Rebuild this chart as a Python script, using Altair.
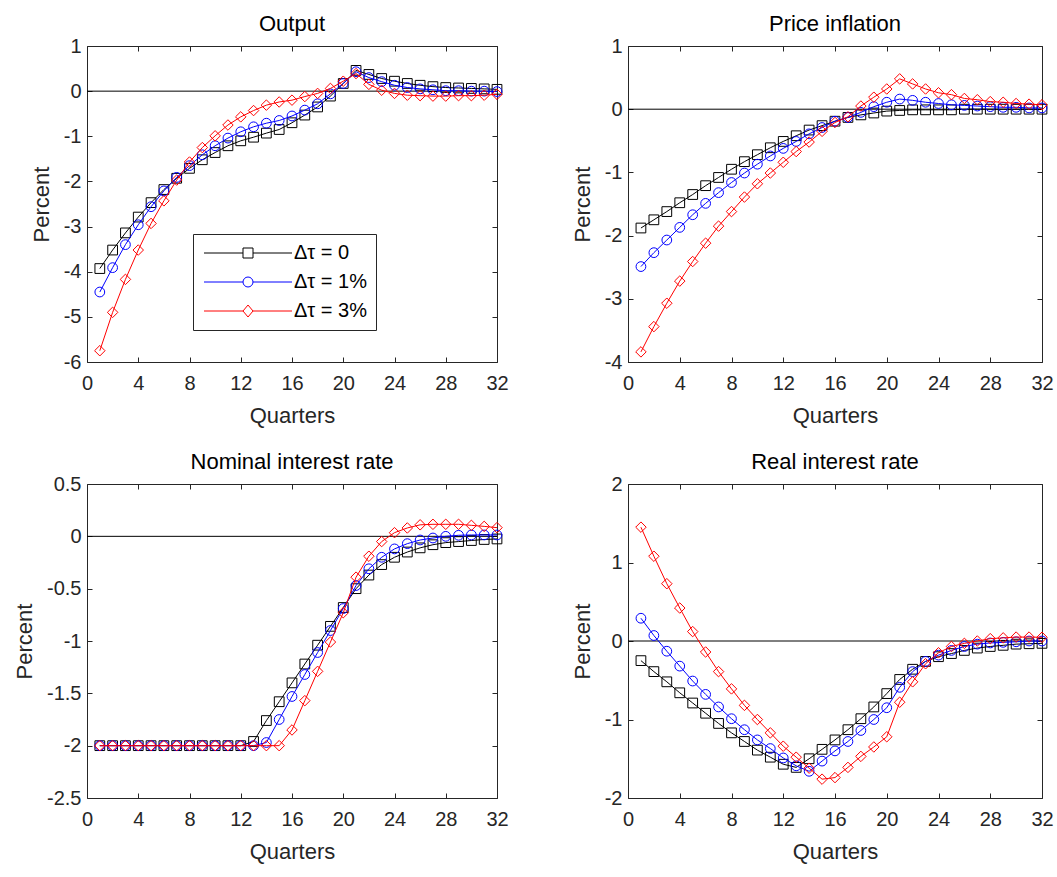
import altair as alt
import pandas as pd

# ---------------- data ----------------
quarters = list(range(1, 33))
series_labels = ["Δτ = 0", "Δτ = 1%", "Δτ = 3%"]
series_colors = ["#000000", "#0000FF", "#FF0000"]
series_shapes = ["square", "circle", "diamond"]

x_ticks = [0, 4, 8, 12, 16, 20, 24, 28, 32]

output_0 = [-3.93, -3.52, -3.14, -2.79, -2.47, -2.18, -1.93, -1.71, -1.52, -1.36, -1.21, -1.10,
            -1.02, -0.93, -0.85, -0.70, -0.53, -0.35, -0.11, 0.17, 0.46, 0.37, 0.28, 0.22,
            0.17, 0.13, 0.10, 0.08, 0.07, 0.06, 0.05, 0.04]
output_1 = [-4.45, -3.91, -3.40, -2.96, -2.56, -2.21, -1.91, -1.65, -1.41, -1.21, -1.04, -0.90,
            -0.79, -0.71, -0.65, -0.55, -0.42, -0.28, -0.06, 0.17, 0.43, 0.30, 0.21, 0.13,
            0.08, 0.05, 0.03, 0.01, 0.01, 0.00, 0.00, -0.01]
output_3 = [-5.75, -4.90, -4.17, -3.52, -2.93, -2.43, -1.97, -1.57, -1.25, -0.99, -0.75, -0.57,
            -0.43, -0.31, -0.24, -0.20, -0.12, -0.05, 0.06, 0.22, 0.39, 0.15, 0.02, -0.05,
            -0.09, -0.10, -0.11, -0.11, -0.10, -0.10, -0.09, -0.07]

infl_0 = [-1.88, -1.75, -1.62, -1.48, -1.35, -1.21, -1.08, -0.95, -0.83, -0.72, -0.61, -0.51,
          -0.42, -0.33, -0.26, -0.19, -0.13, -0.09, -0.06, -0.03, -0.02, -0.01, -0.01, -0.01,
          -0.01, 0.00, 0.00, 0.00, 0.00, 0.00, 0.00, 0.00]
infl_1 = [-2.49, -2.27, -2.07, -1.87, -1.67, -1.49, -1.32, -1.16, -1.01, -0.87, -0.74, -0.62,
          -0.51, -0.39, -0.29, -0.19, -0.13, -0.05, 0.04, 0.11, 0.16, 0.14, 0.11, 0.09,
          0.07, 0.06, 0.05, 0.04, 0.03, 0.03, 0.02, 0.02]
infl_3 = [-3.84, -3.44, -3.07, -2.72, -2.41, -2.12, -1.85, -1.62, -1.39, -1.18, -1.01, -0.84,
          -0.67, -0.52, -0.35, -0.21, -0.12, 0.05, 0.19, 0.32, 0.48, 0.40, 0.32, 0.26,
          0.23, 0.17, 0.15, 0.12, 0.11, 0.09, 0.08, 0.07]

nom_0 = [-2.00, -2.00, -2.00, -2.00, -2.00, -2.00, -2.00, -2.00, -2.00, -2.00, -2.00, -2.00,
         -1.96, -1.76, -1.58, -1.40, -1.22, -1.04, -0.86, -0.68, -0.50, -0.37, -0.27, -0.20,
         -0.15, -0.11, -0.08, -0.06, -0.05, -0.04, -0.03, -0.025]
nom_1 = [-2.00, -2.00, -2.00, -2.00, -2.00, -2.00, -2.00, -2.00, -2.00, -2.00, -2.00, -2.00,
         -2.00, -1.97, -1.75, -1.53, -1.32, -1.11, -0.90, -0.69, -0.47, -0.31, -0.20, -0.12,
         -0.07, -0.035, -0.016, 0.00, 0.01, 0.013, 0.013, 0.013]
nom_3 = [-2.00, -2.00, -2.00, -2.00, -2.00, -2.00, -2.00, -2.00, -2.00, -2.00, -2.00, -2.00,
         -2.00, -2.00, -2.00, -1.85, -1.57, -1.29, -1.01, -0.73, -0.39, -0.19, -0.05, 0.035,
         0.08, 0.11, 0.115, 0.115, 0.115, 0.105, 0.095, 0.083]

real_0 = [-0.25, -0.39, -0.52, -0.66, -0.79, -0.92, -1.05, -1.17, -1.28, -1.39, -1.48, -1.57,
          -1.61, -1.50, -1.38, -1.26, -1.13, -0.99, -0.84, -0.67, -0.49, -0.36, -0.26, -0.20,
          -0.16, -0.12, -0.09, -0.07, -0.055, -0.04, -0.035, -0.03]
real_1 = [0.29, 0.07, -0.13, -0.32, -0.51, -0.68, -0.84, -0.99, -1.13, -1.26, -1.37, -1.49,
          -1.59, -1.66, -1.53, -1.40, -1.28, -1.14, -1.00, -0.85, -0.59, -0.39, -0.26, -0.18,
          -0.12, -0.07, -0.04, -0.025, -0.017, -0.01, 0.00, 0.00]
real_3 = [1.45, 1.08, 0.73, 0.42, 0.12, -0.14, -0.39, -0.61, -0.82, -1.00, -1.17, -1.34,
          -1.48, -1.62, -1.76, -1.74, -1.61, -1.47, -1.35, -1.22, -0.78, -0.52, -0.29, -0.15,
          -0.07, -0.03, 0.00, 0.03, 0.04, 0.05, 0.05, 0.047]

panel_titles = ["Output", "Price inflation", "Nominal interest rate", "Real interest rate"]
panel_series = [[output_0, output_1, output_3], [infl_0, infl_1, infl_3],
                [nom_0, nom_1, nom_3], [real_0, real_1, real_3]]
panel_domains = [[-6, 1], [-4, 1], [-2.5, 0.5], [-2, 2]]
panel_yticks = [[-6, -5, -4, -3, -2, -1, 0, 1], [-4, -3, -2, -1, 0, 1],
                [-2.5, -2, -1.5, -1, -0.5, 0, 0.5], [-2, -1, 0, 1, 2]]
panel_sizes = [(410, 316), (414, 316), (410, 314), (414, 314)]

# legend symbols: line with the marker in the middle (custom SVG paths)
legend_paths = [
    "M-8.8,0H-1M-1,-1H1V1H-1ZM1,0H8.8",
    "M-8.8,0H-1M-1,0A1,1,0,1,1,1,0A1,1,0,1,1,-1,0M1,0H8.8",
    "M-8.8,0H-1M-1,0L0,-1.2L1,0L0,1.2ZM1,0H8.8",
]

FONT = "Liberation Sans"
AX = "#262626"
NBSP = "\u00a0"


def make_panel(idx, with_legend=False):
    rows = []
    for lab, vals in zip(series_labels, panel_series[idx]):
        for q, v in zip(quarters, vals):
            rows.append({"q": q, "v": v, "s": lab})
    df = pd.DataFrame(rows)
    w, h = panel_sizes[idx]
    yt = panel_yticks[idx]

    xs = alt.Scale(domain=[0, 32], nice=False, zero=False)
    ys = alt.Scale(domain=panel_domains[idx], nice=False, zero=False)

    common = dict(labelFont=FONT, labelFontSize=20, labelColor=AX, tickColor=AX, tickWidth=1,
                  titleFont=FONT, titleFontSize=22, titleColor=AX, titleFontWeight="normal",
                  domain=False, grid=False, offset=-5, tickSize=5)
    ax_bottom = alt.Axis(orient="bottom", values=x_ticks, labelPadding=11, titlePadding=12,
                         labelExpr="datum.value + ''", labelFlush=False, **common)
    ax_top = alt.Axis(orient="top", values=x_ticks, labels=False, **common)
    ax_left = alt.Axis(orient="left", values=yt, labelPadding=6, titlePadding=10,
                       labelExpr="datum.value + ''", labelFlush=False, **common)
    ax_right = alt.Axis(orient="right", values=yt, labels=False, **common)

    zero = alt.Chart(pd.DataFrame({"z": [0]})).mark_rule(color="black", strokeWidth=1).encode(
        y=alt.Y("z:Q", scale=ys, axis=None)
    )
    layers = [zero]
    base = alt.Chart(df)
    for i, (lab, col, shp) in enumerate(zip(series_labels, series_colors, series_shapes)):
        sub = base.transform_filter(alt.datum.s == lab)
        line = sub.mark_line(color=col, strokeWidth=1).encode(
            x=alt.X("q:Q", scale=xs, axis=ax_bottom if i == 0 else None, title="Quarters"),
            y=alt.Y("v:Q", scale=ys, axis=ax_left if i == 0 else None, title="Percent"),
        )
        pts = sub.mark_point(shape=shp, color=col, filled=False, size=95 if shp != "diamond" else 110,
                             strokeWidth=1, opacity=1).encode(
            x=alt.X("q:Q", scale=xs, axis=ax_top if i == 0 else None, title=None),
            y=alt.Y("v:Q", scale=ys, axis=ax_right if i == 0 else None, title=None),
        )
        layers += [line, pts]

    if with_legend:
        leg = alt.Legend(orient="none", legendX=106, legendY=188, title=None,
                         strokeColor=AX, fillColor="white", padding=9, cornerRadius=0,
                         labelFont=FONT, labelFontSize=20, labelColor="black", labelOffset=36,
                         labelExpr="datum.label + '" + NBSP + NBSP + "'",
                         symbolSize=100, symbolStrokeWidth=1, symbolOffset=36, rowPadding=9,
                         symbolOpacity=1)
        hidden = base.mark_point(opacity=0, filled=False, strokeWidth=1).encode(
            x=alt.X("q:Q", scale=xs, axis=None),
            y=alt.Y("v:Q", scale=ys, axis=None),
            color=alt.Color("s:N", scale=alt.Scale(domain=series_labels, range=series_colors), legend=leg),
            shape=alt.Shape("s:N", scale=alt.Scale(domain=series_labels, range=legend_paths), legend=leg),
        )
        layers.append(hidden)

    return alt.layer(*layers).resolve_axis(x="independent", y="independent").properties(
        width=w, height=h,
        title=alt.TitleParams(panel_titles[idx], font=FONT, fontSize=22, fontWeight="normal",
                              color="black", offset=0),
    )


panels = [make_panel(0, with_legend=True), make_panel(1), make_panel(2), make_panel(3)]

chart = alt.concat(*panels, columns=2, spacing={"row": 23, "column": 48}).resolve_legend(
    color="independent", shape="independent"
).properties(
    padding={"left": 13, "top": 12, "right": 2, "bottom": 2},
    background="white",
).configure_view(
    stroke=AX, strokeWidth=1, fill="white"
)

chart.save("out.html", embed_options={"renderer": "svg", "actions": False})
